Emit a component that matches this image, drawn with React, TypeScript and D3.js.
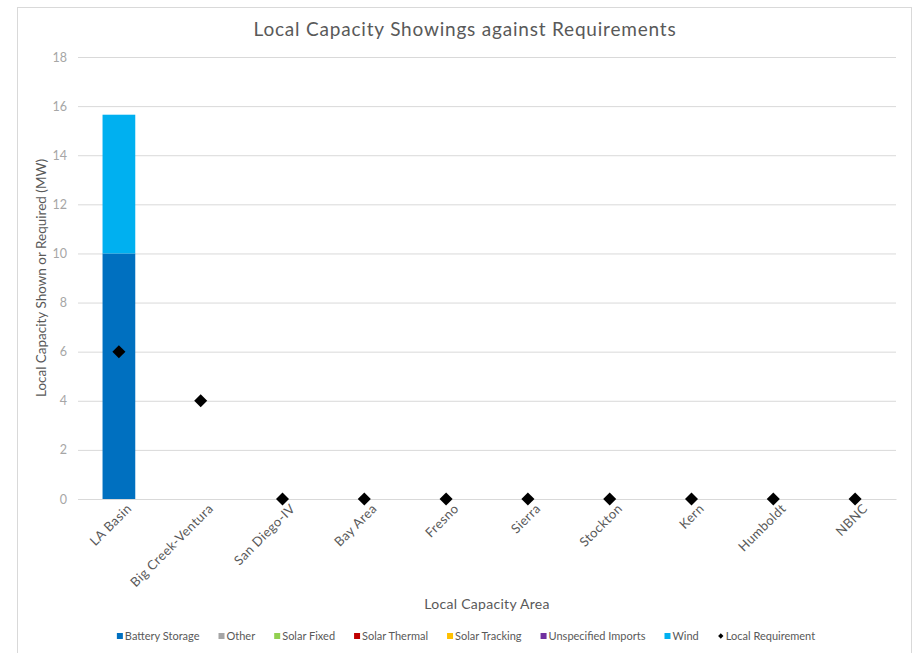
import React, { useEffect, useRef } from "react";
import * as d3 from "d3";

const areas = [
  "LA Basin",
  "Big Creek-Ventura",
  "San Diego-IV",
  "Bay Area",
  "Fresno",
  "Sierra",
  "Stockton",
  "Kern",
  "Humboldt",
  "NBNC",
];

const resources = [
  "Battery Storage",
  "Other",
  "Solar Fixed",
  "Solar Thermal",
  "Solar Tracking",
  "Unspecified Imports",
  "Wind",
];

const resourceColors = ["#0070c0", "#a5a5a5", "#92d050", "#c00000", "#ffc000", "#7030a0", "#00b0f0"];

// MW shown per area, one array per resource
const batteryStorage = [10, 0, 0, 0, 0, 0, 0, 0, 0, 0];
const other = [0, 0, 0, 0, 0, 0, 0, 0, 0, 0];
const solarFixed = [0, 0, 0, 0, 0, 0, 0, 0, 0, 0];
const solarThermal = [0, 0, 0, 0, 0, 0, 0, 0, 0, 0];
const solarTracking = [0, 0, 0, 0, 0, 0, 0, 0, 0, 0];
const unspecifiedImports = [0, 0, 0, 0, 0, 0, 0, 0, 0, 0];
const wind = [5.65, 0, 0, 0, 0, 0, 0, 0, 0, 0];

const localRequirement = [6, 4, 0, 0, 0, 0, 0, 0, 0, 0];

const yTicks = [0, 2, 4, 6, 8, 10, 12, 14, 16, 18];

const FONT = "'Lato', 'DejaVu Sans', sans-serif";

const App: React.FC = () => {
  const ref = useRef<SVGSVGElement | null>(null);

  useEffect(() => {
    const svg = d3.select(ref.current);
    svg.selectAll("*").remove();

    const W = 914;
    const H = 653;
    const margin = { top: 57, right: 18, bottom: 154, left: 78 };
    const height = H - margin.top - margin.bottom;

    svg.attr("width", W).attr("height", H);

    // chart frame
    svg
      .append("rect")
      .attr("x", 17.5)
      .attr("y", 7.5)
      .attr("width", 894)
      .attr("height", 660)
      .attr("fill", "#ffffff")
      .attr("stroke", "#d9d9d9");

    svg
      .append("text")
      .attr("x", 465)
      .attr("y", 36)
      .attr("text-anchor", "middle")
      .attr("font-family", FONT)
      .attr("font-size", 19)
      .attr("letter-spacing", 0.8)
      .attr("fill", "#595959")
      .text("Local Capacity Showings against Requirements");

    const g = svg.append("g").attr("transform", `translate(${margin.left},${margin.top})`);
    const width = W - margin.left - margin.right;

    const x = d3.scaleBand().domain(areas).range([0, width]).paddingInner(0.6).paddingOuter(0.3);
    const y = d3.scaleLinear().domain([0, 18]).range([height, 0]);

    // gridlines + y labels
    const yAxis = g
      .append("g")
      .call(d3.axisLeft(y).tickValues(yTicks).tickSize(-width).tickPadding(11));
    yAxis.select(".domain").remove();
    yAxis.selectAll(".tick line").attr("stroke", "#d9d9d9");
    yAxis
      .selectAll(".tick text")
      .attr("font-family", FONT)
      .attr("font-size", 12.5)
      .attr("fill", "#a6a6a6");

    // stacked bars
    const series = [batteryStorage, other, solarFixed, solarThermal, solarTracking, unspecifiedImports, wind];
    const rows = areas.map((a, i) => {
      const r: Record<string, number | string> = { area: a };
      resources.forEach((k, j) => (r[k] = series[j][i]));
      return r;
    });
    const stack = d3.stack<Record<string, number | string>>().keys(resources)(rows as any);

    g.selectAll("g.layer")
      .data(stack)
      .enter()
      .append("g")
      .attr("fill", (_d, i) => resourceColors[i])
      .selectAll("rect")
      .data((d) => d.filter((p) => p[1] - p[0] > 0))
      .enter()
      .append("rect")
      .attr("x", (d) => x(d.data.area as string) ?? 0)
      .attr("y", (d) => y(d[1]))
      .attr("width", x.bandwidth())
      .attr("height", (d) => y(d[0]) - y(d[1]));

    // x axis
    const xAxis = g
      .append("g")
      .attr("transform", `translate(0,${height})`)
      .call(d3.axisBottom(x).tickSize(0).tickPadding(8));
    xAxis.select(".domain").attr("stroke", "#d9d9d9");
    xAxis
      .selectAll(".tick text")
      .attr("font-family", FONT)
      .attr("font-size", 13)
      .attr("letter-spacing", 0.4)
      .attr("fill", "#595959")
      .attr("text-anchor", "end")
      .attr("dy", "0.3em")
      .attr("transform", "translate(5,2) rotate(-45)");

    // requirement markers
    const diamond = d3.symbol().type(d3.symbolSquare).size(85);
    g.selectAll("path.req")
      .data(localRequirement)
      .enter()
      .append("path")
      .attr("class", "req")
      .attr("d", diamond)
      .attr("fill", "#000000")
      .attr("transform", (d, i) => `translate(${(x(areas[i]) ?? 0) + x.bandwidth() / 2},${y(d)}) rotate(45)`);

    // axis titles
    svg
      .append("text")
      .attr("transform", `translate(46,${margin.top + height / 2}) rotate(-90)`)
      .attr("text-anchor", "middle")
      .attr("font-family", FONT)
      .attr("font-size", 13.5)
      .attr("fill", "#595959")
      .text("Local Capacity Shown or Required (MW)");

    svg
      .append("text")
      .attr("x", margin.left + width / 2)
      .attr("y", 609)
      .attr("text-anchor", "middle")
      .attr("font-family", FONT)
      .attr("font-size", 14)
      .attr("letter-spacing", 0.3)
      .attr("fill", "#595959")
      .text("Local Capacity Area");

    // legend
    const legendItems = [...resources, "Local Requirement"];
    const lg = svg.append("g");
    let cx = 0;
    legendItems.forEach((name, i) => {
      const item = lg.append("g").attr("transform", `translate(${cx},0)`);
      if (i < resources.length) {
        item.append("rect").attr("x", 0).attr("y", -4).attr("width", 6).attr("height", 6).attr("fill", resourceColors[i]);
      } else {
        item
          .append("path")
          .attr("d", d3.symbol().type(d3.symbolSquare).size(14)())
          .attr("transform", "translate(3,-1) rotate(45)")
          .attr("fill", "#000000");
      }
      const t = item
        .append("text")
        .attr("x", 8)
        .attr("y", 3)
        .attr("font-family", FONT)
        .attr("font-size", 11)
        .attr("fill", "#595959")
        .text(name);
      const tw = (t.node() as SVGTextElement).getComputedTextLength();
      cx += 8 + tw + 19;
    });
    const total = cx - 19;
    lg.attr("transform", `translate(${466 - total / 2},637)`);
  }, []);

  return <svg ref={ref} style={{ position: "absolute", left: 0, top: 0 }}></svg>;
};

export default App;
